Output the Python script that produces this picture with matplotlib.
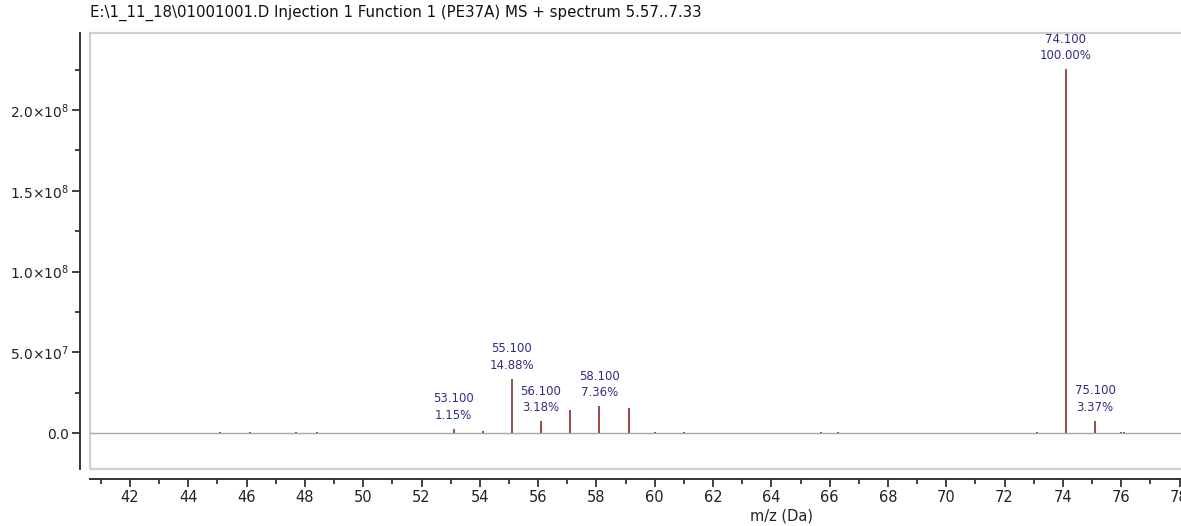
import matplotlib.pyplot as plt
from matplotlib.patches import Rectangle
from matplotlib.ticker import MultipleLocator, FuncFormatter

# Centroided MS peaks (m/z, intensity)
peak_mz = [45.1, 46.1, 47.0, 47.7, 48.4, 52.0, 53.1, 54.1, 55.1, 56.1, 57.1,
           58.1, 59.1, 60.0, 61.0, 65.7, 66.3, 69.0, 73.1, 74.1, 75.1, 76.0, 76.1]
peak_int = [4e5, 5e5, 3e5, 8e5, 7e5, 3e5, 2.59e6, 1.2e6, 3.354e7, 7.17e6, 1.42e7,
            1.659e7, 1.55e7, 8e5, 4e5, 9e5, 8e5, 3e5, 7e5, 2.254e8, 7.6e6, 6e5, 5e5]

# Labelled peaks: m/z, relative abundance (%)
label_mz = [53.1, 55.1, 56.1, 58.1, 74.1, 75.1]
label_pct = [1.15, 14.88, 3.18, 7.36, 100.00, 3.37]
base_peak = 2.254e8

title = r"E:\1_11_18\01001001.D Injection 1 Function 1 (PE37A) MS + spectrum 5.57..7.33"

fig = plt.figure(figsize=(11.81, 5.26), dpi=100)
ax = fig.add_axes([90 / 1181, 1 - 469 / 526, 1100 / 1181, 436 / 526])

ax.set_xlim(40.628, 78.36)
ax.set_ylim(-2.229e7, 2.4768e8)

# baseline and peaks
ax.axhline(0, color='#a8a8a8', lw=1.0, zorder=1)
ax.vlines(peak_mz, 0, peak_int, color='#9e4a46', lw=1.4, zorder=2)

for mz, pct in zip(label_mz, label_pct):
    h = base_peak * pct / 100
    ax.annotate(f"{mz:.3f}\n{pct:.2f}%", xy=(mz, h), xytext=(0, 5),
                textcoords='offset points', ha='center', va='bottom',
                fontsize=8.5, color='#2e2e85', linespacing=1.35)

# light frame around the plotting area
ax.add_patch(Rectangle((0, 0), 1, 1, transform=ax.transAxes, fill=False,
                       edgecolor='#cfcfcf', lw=1.6, clip_on=False, zorder=0))

for side in ('top', 'right'):
    ax.spines[side].set_visible(False)
for side in ('left', 'bottom'):
    ax.spines[side].set_position(('outward', 7))
    ax.spines[side].set_color('#333333')
    ax.spines[side].set_linewidth(1.4)

ax.xaxis.set_major_locator(MultipleLocator(2))
ax.xaxis.set_minor_locator(MultipleLocator(1))
ax.yaxis.set_major_locator(MultipleLocator(5e7))
ax.yaxis.set_minor_locator(MultipleLocator(2.5e7))


def sci_fmt(v, pos):
    if v == 0:
        return "0.0"
    exp = len(str(int(abs(v)))) - 1
    mant = v / 10 ** exp
    return rf"${mant:.1f}{{\times}}10^{{{exp}}}$"


ax.yaxis.set_major_formatter(FuncFormatter(sci_fmt))
ax.tick_params(axis='both', which='major', length=6, width=1.3, color='#333333',
               labelcolor='#222222', pad=2)
ax.tick_params(axis='both', which='minor', length=3.5, width=1.3, color='#333333')
ax.tick_params(axis='x', labelsize=10.5)
ax.tick_params(axis='y', labelsize=10)

fig.text(90 / 1181, 1 - 13 / 526, title, fontsize=10.8, color='#111111',
         ha='left', va='center')
fig.text(782 / 1181, 1 - 516 / 526, "m/z (Da)", fontsize=10.5, color='#222222',
         ha='center', va='center')

fig.savefig("out.png", dpi=100)
